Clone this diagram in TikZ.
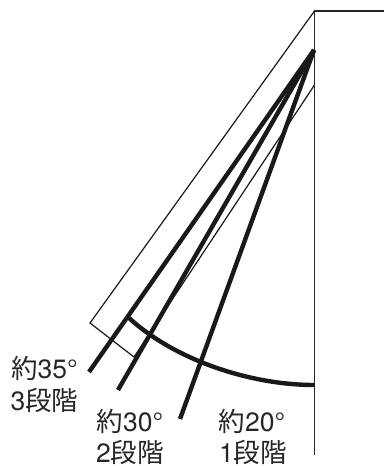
\documentclass[tikz,border=0pt]{standalone}
\usepackage{fontspec}
\setmainfont{TeX Gyre Heros}
\newfontfamily\cjk{Noto Sans CJK JP}
\newcommand{\kj}[1]{{\cjk #1}}
\tikzset{
  thinline/.style={line width=1.2pt,color=black!90},
  wall/.style={line width=1.5pt,color=black!85},
  heavy/.style={line width=4.4pt,color=black!90},
  lab/.style={anchor=base west,inner sep=0pt,font=\fontsize{26.5}{26.5}\selectfont,text=black!85}
}
\begin{document}
\begin{tikzpicture}[x=1pt,y=-1pt]
\useasboundingbox (0,0) rectangle (384,466);
\coordinate (top) at (314.5,11);
\coordinate (right) at (384,11);
\coordinate (bottom) at (314.5,455);
\coordinate (pa) at (90,323);
\coordinate (pb) at (134,357);
\coordinate (pc) at (314.5,85);
\coordinate (pivot) at (314,50);
\coordinate (l3) at (89,372);
\coordinate (l2) at (118,390);
\coordinate (l1) at (180,419);
\coordinate (as) at (314.5,385);
\coordinate (ae) at (129,318);
\draw[thinline] (top) -- (pa) -- (pb) -- (pc);
\draw[wall] (right) -- (top) -- (bottom);
\draw[heavy] (pivot) -- (l3);
\draw[heavy] (pivot) -- (l2);
\draw[heavy] (pivot) -- (l1);
\draw[heavy] (as) .. controls (250,385) and (175,360) .. (ae);
\node[lab] (t35) at (11,378.5) {\kj{約}35°};
\node[lab] (s3) at (10.5,410) {3\kj{段階}};
\node[lab] (t30) at (96.5,431.5) {\kj{約}30°};
\node[lab] (s2) at (96,462) {2\kj{段階}};
\node[lab] (t20) at (218.5,431.5) {\kj{約}20°};
\node[lab] (s1) at (219,462) {1\kj{段階}};
\end{tikzpicture}
\end{document}
